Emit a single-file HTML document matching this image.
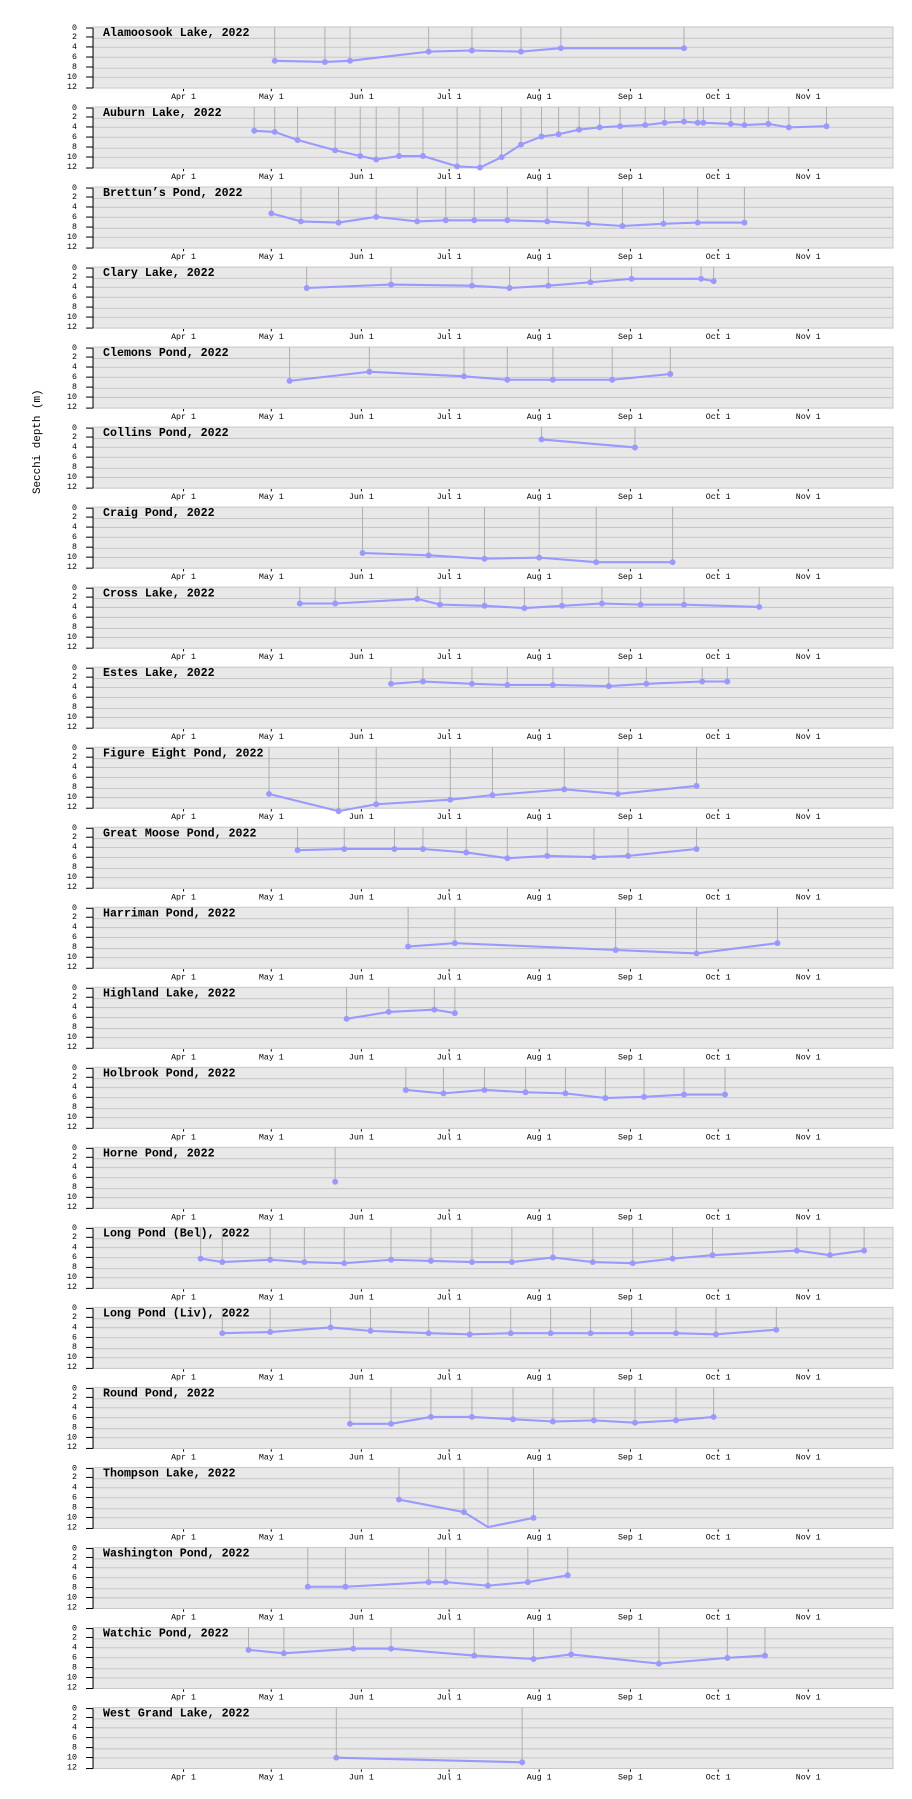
<!DOCTYPE html>
<html><head><meta charset="utf-8"><style>
html,body{margin:0;padding:0;background:#fff}
svg{display:block}
text{font-family:"Liberation Mono","DejaVu Sans Mono",monospace}
.t{font-size:7.3px;fill:#000}
.ti{font-size:10.2px;font-weight:bold;fill:#000}
.v{stroke:#b0b0b0;stroke-width:0.9}
.s{fill:none;stroke:#9999ff;stroke-width:1.8;stroke-linejoin:round}
.d{fill:#9999ff}
</style></head><body>
<svg width="912" height="1799" viewBox="0 0 800 1568" preserveAspectRatio="none" xmlns="http://www.w3.org/2000/svg" xmlns:xlink="http://www.w3.org/1999/xlink">
<defs>
<g id="bg">
<rect x="81.6" y="0" width="701.7" height="53.2" fill="#e8e8e8" stroke="#c8c8c8" stroke-width="0.9"/>
<g stroke="#c8c8c8" stroke-width="0.9">
<line x1="81.6" x2="783.3" y1="9.9" y2="9.9"/><line x1="81.6" x2="783.3" y1="17.7" y2="17.7"/><line x1="81.6" x2="783.3" y1="26.4" y2="26.4"/><line x1="81.6" x2="783.3" y1="36" y2="36"/><line x1="81.6" x2="783.3" y1="43.9" y2="43.9"/>
</g>
<g stroke="#000" stroke-width="0.9">
<line x1="81.6" x2="81.6" y1="0.9" y2="53.2"/>
<line x1="75.5" x2="81.6" y1="0.9" y2="0.9"/><line x1="75.5" x2="81.6" y1="8.7" y2="8.7"/><line x1="75.5" x2="81.6" y1="17.4" y2="17.4"/><line x1="75.5" x2="81.6" y1="26.2" y2="26.2"/><line x1="75.5" x2="81.6" y1="34.9" y2="34.9"/><line x1="75.5" x2="81.6" y1="43.6" y2="43.6"/><line x1="75.5" x2="81.6" y1="53.2" y2="53.2"/>
<line x1="161" x2="161" y1="54" y2="56"/><line x1="238" x2="238" y1="54" y2="56"/><line x1="317" x2="317" y1="54" y2="56"/><line x1="394" x2="394" y1="54" y2="56"/><line x1="473" x2="473" y1="54" y2="56"/><line x1="553" x2="553" y1="54" y2="56"/><line x1="630" x2="630" y1="54" y2="56"/><line x1="709" x2="709" y1="54" y2="56"/>
</g>
<g class="t" text-anchor="end">
<text x="67.5" y="2.5">0</text><text x="67.5" y="10.3">2</text><text x="67.5" y="19.1">4</text><text x="67.5" y="27.8">6</text><text x="67.5" y="36.5">8</text><text x="67.5" y="45.2">10</text><text x="67.5" y="53.9">12</text>
</g>
<g class="t" text-anchor="middle">
<text x="161" y="62.8">Apr 1</text><text x="238" y="62.8">May 1</text><text x="317" y="62.8">Jun 1</text><text x="394" y="62.8">Jul 1</text><text x="473" y="62.8">Aug 1</text><text x="553" y="62.8">Sep 1</text><text x="630" y="62.8">Oct 1</text><text x="709" y="62.8">Nov 1</text>
</g>
</g>
</defs>
<text x="32.5" y="385" transform="rotate(-90 32.5 385)" text-anchor="middle" dominant-baseline="middle" style="font-size:9.5px">Secchi depth (m)</text>

<use xlink:href="#bg" y="23.5"/><use xlink:href="#bg" y="93.25"/><use xlink:href="#bg" y="163"/><use xlink:href="#bg" y="232.75"/><use xlink:href="#bg" y="302.5"/><use xlink:href="#bg" y="372.25"/><use xlink:href="#bg" y="442"/><use xlink:href="#bg" y="511.75"/><use xlink:href="#bg" y="581.5"/><use xlink:href="#bg" y="651.25"/><use xlink:href="#bg" y="721"/><use xlink:href="#bg" y="790.75"/><use xlink:href="#bg" y="860.5"/><use xlink:href="#bg" y="930.25"/><use xlink:href="#bg" y="1000"/><use xlink:href="#bg" y="1069.75"/><use xlink:href="#bg" y="1139.5"/><use xlink:href="#bg" y="1209.25"/><use xlink:href="#bg" y="1279"/><use xlink:href="#bg" y="1348.75"/><use xlink:href="#bg" y="1418.5"/><use xlink:href="#bg" y="1488.25"/>

<g class="ti">
<text x="90.4" y="31.4">Alamoosook Lake, 2022</text>
<text x="90.4" y="101.2">Auburn Lake, 2022</text>
<text x="90.4" y="170.9">Brettun’s Pond, 2022</text>
<text x="90.4" y="240.7">Clary Lake, 2022</text>
<text x="90.4" y="310.4">Clemons Pond, 2022</text>
<text x="90.4" y="380.2">Collins Pond, 2022</text>
<text x="90.4" y="449.9">Craig Pond, 2022</text>
<text x="90.4" y="519.7">Cross Lake, 2022</text>
<text x="90.4" y="589.4">Estes Lake, 2022</text>
<text x="90.4" y="659.2">Figure Eight Pond, 2022</text>
<text x="90.4" y="728.9">Great Moose Pond, 2022</text>
<text x="90.4" y="798.7">Harriman Pond, 2022</text>
<text x="90.4" y="868.4">Highland Lake, 2022</text>
<text x="90.4" y="938.2">Holbrook Pond, 2022</text>
<text x="90.4" y="1007.9">Horne Pond, 2022</text>
<text x="90.4" y="1077.7">Long Pond (Bel), 2022</text>
<text x="90.4" y="1147.4">Long Pond (Liv), 2022</text>
<text x="90.4" y="1217.2">Round Pond, 2022</text>
<text x="90.4" y="1286.9">Thompson Lake, 2022</text>
<text x="90.4" y="1356.7">Washington Pond, 2022</text>
<text x="90.4" y="1426.4">Watchic Pond, 2022</text>
<text x="90.4" y="1496.2">West Grand Lake, 2022</text>
</g>

<path class="v" d="M241 23.5V53M285 23.5V54M307 23.5V53M376 23.5V45M414 23.5V44M457 23.5V45M492 23.5V42M600 23.5V42
M223 93.25V114M241 93.25V115M261 93.25V122M294 93.25V131M316 93.25V136M330 93.25V139M350 93.25V136M371 93.25V136M401 93.25V145M421 93.25V146M440 93.25V137M457 93.25V126M475 93.25V119M490 93.25V117M508 93.25V113M526 93.25V111M544 93.25V110M566 93.25V109M583 93.25V107M600 93.25V106M612 93.25V107M617 93.25V107M641 93.25V108M653 93.25V109M674 93.25V108M692 93.25V111M725 93.25V110
M238 163V186M264 163V193M297 163V194M330 163V189M366 163V193M391 163V192M416 163V192M445 163V192M480 163V193M516 163V195M546 163V197M582 163V195M612 163V194M653 163V194
M269 232.75V251M343 232.75V248M414 232.75V249M447 232.75V251M481 232.75V249M518 232.75V246M554 232.75V243M615 232.75V243M626 232.75V245
M254 302.5V332M324 302.5V324M407 302.5V328M445 302.5V331M485 302.5V331M537 302.5V331M588 302.5V326
M475 372.25V383M557 372.25V390
M318 442V482M376 442V484M425 442V487M473 442V486M523 442V490M590 442V490
M263 511.75V526M294 511.75V526M366 511.75V522M386 511.75V527M425 511.75V528M460 511.75V530M493 511.75V528M528 511.75V526M562 511.75V527M600 511.75V527M666 511.75V529
M343 581.5V596M371 581.5V594M414 581.5V596M445 581.5V597M485 581.5V597M534 581.5V598M567 581.5V596M616 581.5V594M638 581.5V594
M236 651.25V692M297 651.25V707M330 651.25V701M395 651.25V697M432 651.25V693M495 651.25V688M542 651.25V692M611 651.25V685
M261 721V741M302 721V740M346 721V740M371 721V740M409 721V743M445 721V748M480 721V746M521 721V747M551 721V746M611 721V740
M358 790.75V825M399 790.75V822M540 790.75V828M611 790.75V831M682 790.75V822
M304 860.5V888M341 860.5V882M381 860.5V880M399 860.5V883
M356 930.25V950M389 930.25V953M425 930.25V950M461 930.25V952M496 930.25V953M531 930.25V957M565 930.25V956M600 930.25V954M636 930.25V954
M294 1000V1030
M176 1069.75V1097M195 1069.75V1100M237 1069.75V1098M267 1069.75V1100M302 1069.75V1101M343 1069.75V1098M378 1069.75V1099M414 1069.75V1100M449 1069.75V1100M485 1069.75V1096M520 1069.75V1100M555 1069.75V1101M590 1069.75V1097M625 1069.75V1094M699 1069.75V1090M728 1069.75V1094M758 1069.75V1090
M195 1139.5V1162M237 1139.5V1161M290 1139.5V1157M325 1139.5V1160M376 1139.5V1162M412 1139.5V1163M448 1139.5V1162M483 1139.5V1162M518 1139.5V1162M554 1139.5V1162M593 1139.5V1162M628 1139.5V1163M681 1139.5V1159
M307 1209.25V1241M343 1209.25V1241M378 1209.25V1235M414 1209.25V1235M450 1209.25V1237M485 1209.25V1239M521 1209.25V1238M557 1209.25V1240M593 1209.25V1238M626 1209.25V1235
M350 1279V1307M407 1279V1318M428 1279V1331M468 1279V1323
M270 1348.75V1383M303 1348.75V1383M376 1348.75V1379M391 1348.75V1379M428 1348.75V1382M463 1348.75V1379M498 1348.75V1373
M218 1418.5V1438M249 1418.5V1441M310 1418.5V1437M343 1418.5V1437M416 1418.5V1443M468 1418.5V1446M501 1418.5V1442M578 1418.5V1450M638 1418.5V1445M671 1418.5V1443
M295 1488.25V1532M458 1488.25V1536"/>

<g class="s">
<polyline points="241,53 285,54 307,53 376,45 414,44 457,45 492,42 600,42"/>
<polyline points="223,114 241,115 261,122 294,131 316,136 330,139 350,136 371,136 401,145 421,146 440,137 457,126 475,119 490,117 508,113 526,111 544,110 566,109 583,107 600,106 612,107 617,107 641,108 653,109 674,108 692,111 725,110"/>
<polyline points="238,186 264,193 297,194 330,189 366,193 391,192 416,192 445,192 480,193 516,195 546,197 582,195 612,194 653,194"/>
<polyline points="269,251 343,248 414,249 447,251 481,249 518,246 554,243 615,243 626,245"/>
<polyline points="254,332 324,324 407,328 445,331 485,331 537,331 588,326"/>
<polyline points="475,383 557,390"/>
<polyline points="318,482 376,484 425,487 473,486 523,490 590,490"/>
<polyline points="263,526 294,526 366,522 386,527 425,528 460,530 493,528 528,526 562,527 600,527 666,529"/>
<polyline points="343,596 371,594 414,596 445,597 485,597 534,598 567,596 616,594 638,594"/>
<polyline points="236,692 297,707 330,701 395,697 432,693 495,688 542,692 611,685"/>
<polyline points="261,741 302,740 346,740 371,740 409,743 445,748 480,746 521,747 551,746 611,740"/>
<polyline points="358,825 399,822 540,828 611,831 682,822"/>
<polyline points="304,888 341,882 381,880 399,883"/>
<polyline points="356,950 389,953 425,950 461,952 496,953 531,957 565,956 600,954 636,954"/>
<polyline points="176,1097 195,1100 237,1098 267,1100 302,1101 343,1098 378,1099 414,1100 449,1100 485,1096 520,1100 555,1101 590,1097 625,1094 699,1090 728,1094 758,1090"/>
<polyline points="195,1162 237,1161 290,1157 325,1160 376,1162 412,1163 448,1162 483,1162 518,1162 554,1162 593,1162 628,1163 681,1159"/>
<polyline points="307,1241 343,1241 378,1235 414,1235 450,1237 485,1239 521,1238 557,1240 593,1238 626,1235"/>
<polyline points="350,1307 407,1318 428,1331 468,1323"/>
<polyline points="270,1383 303,1383 376,1379 391,1379 428,1382 463,1379 498,1373"/>
<polyline points="218,1438 249,1441 310,1437 343,1437 416,1443 468,1446 501,1442 578,1450 638,1445 671,1443"/>
<polyline points="295,1532 458,1536"/>
</g>
<g class="d">
<circle cx="241" cy="53" r="2.6"/><circle cx="285" cy="54" r="2.6"/><circle cx="307" cy="53" r="2.6"/><circle cx="376" cy="45" r="2.6"/><circle cx="414" cy="44" r="2.6"/><circle cx="457" cy="45" r="2.6"/><circle cx="492" cy="42" r="2.6"/><circle cx="600" cy="42" r="2.6"/>
<circle cx="223" cy="114" r="2.6"/><circle cx="241" cy="115" r="2.6"/><circle cx="261" cy="122" r="2.6"/><circle cx="294" cy="131" r="2.6"/><circle cx="316" cy="136" r="2.6"/><circle cx="330" cy="139" r="2.6"/><circle cx="350" cy="136" r="2.6"/><circle cx="371" cy="136" r="2.6"/><circle cx="401" cy="145" r="2.6"/><circle cx="421" cy="146" r="2.6"/><circle cx="440" cy="137" r="2.6"/><circle cx="457" cy="126" r="2.6"/><circle cx="475" cy="119" r="2.6"/><circle cx="490" cy="117" r="2.6"/><circle cx="508" cy="113" r="2.6"/><circle cx="526" cy="111" r="2.6"/><circle cx="544" cy="110" r="2.6"/><circle cx="566" cy="109" r="2.6"/><circle cx="583" cy="107" r="2.6"/><circle cx="600" cy="106" r="2.6"/><circle cx="612" cy="107" r="2.6"/><circle cx="617" cy="107" r="2.6"/><circle cx="641" cy="108" r="2.6"/><circle cx="653" cy="109" r="2.6"/><circle cx="674" cy="108" r="2.6"/><circle cx="692" cy="111" r="2.6"/><circle cx="725" cy="110" r="2.6"/>
<circle cx="238" cy="186" r="2.6"/><circle cx="264" cy="193" r="2.6"/><circle cx="297" cy="194" r="2.6"/><circle cx="330" cy="189" r="2.6"/><circle cx="366" cy="193" r="2.6"/><circle cx="391" cy="192" r="2.6"/><circle cx="416" cy="192" r="2.6"/><circle cx="445" cy="192" r="2.6"/><circle cx="480" cy="193" r="2.6"/><circle cx="516" cy="195" r="2.6"/><circle cx="546" cy="197" r="2.6"/><circle cx="582" cy="195" r="2.6"/><circle cx="612" cy="194" r="2.6"/><circle cx="653" cy="194" r="2.6"/>
<circle cx="269" cy="251" r="2.6"/><circle cx="343" cy="248" r="2.6"/><circle cx="414" cy="249" r="2.6"/><circle cx="447" cy="251" r="2.6"/><circle cx="481" cy="249" r="2.6"/><circle cx="518" cy="246" r="2.6"/><circle cx="554" cy="243" r="2.6"/><circle cx="615" cy="243" r="2.6"/><circle cx="626" cy="245" r="2.6"/>
<circle cx="254" cy="332" r="2.6"/><circle cx="324" cy="324" r="2.6"/><circle cx="407" cy="328" r="2.6"/><circle cx="445" cy="331" r="2.6"/><circle cx="485" cy="331" r="2.6"/><circle cx="537" cy="331" r="2.6"/><circle cx="588" cy="326" r="2.6"/>
<circle cx="475" cy="383" r="2.6"/><circle cx="557" cy="390" r="2.6"/>
<circle cx="318" cy="482" r="2.6"/><circle cx="376" cy="484" r="2.6"/><circle cx="425" cy="487" r="2.6"/><circle cx="473" cy="486" r="2.6"/><circle cx="523" cy="490" r="2.6"/><circle cx="590" cy="490" r="2.6"/>
<circle cx="263" cy="526" r="2.6"/><circle cx="294" cy="526" r="2.6"/><circle cx="366" cy="522" r="2.6"/><circle cx="386" cy="527" r="2.6"/><circle cx="425" cy="528" r="2.6"/><circle cx="460" cy="530" r="2.6"/><circle cx="493" cy="528" r="2.6"/><circle cx="528" cy="526" r="2.6"/><circle cx="562" cy="527" r="2.6"/><circle cx="600" cy="527" r="2.6"/><circle cx="666" cy="529" r="2.6"/>
<circle cx="343" cy="596" r="2.6"/><circle cx="371" cy="594" r="2.6"/><circle cx="414" cy="596" r="2.6"/><circle cx="445" cy="597" r="2.6"/><circle cx="485" cy="597" r="2.6"/><circle cx="534" cy="598" r="2.6"/><circle cx="567" cy="596" r="2.6"/><circle cx="616" cy="594" r="2.6"/><circle cx="638" cy="594" r="2.6"/>
<circle cx="236" cy="692" r="2.6"/><circle cx="297" cy="707" r="2.6"/><circle cx="330" cy="701" r="2.6"/><circle cx="395" cy="697" r="2.6"/><circle cx="432" cy="693" r="2.6"/><circle cx="495" cy="688" r="2.6"/><circle cx="542" cy="692" r="2.6"/><circle cx="611" cy="685" r="2.6"/>
<circle cx="261" cy="741" r="2.6"/><circle cx="302" cy="740" r="2.6"/><circle cx="346" cy="740" r="2.6"/><circle cx="371" cy="740" r="2.6"/><circle cx="409" cy="743" r="2.6"/><circle cx="445" cy="748" r="2.6"/><circle cx="480" cy="746" r="2.6"/><circle cx="521" cy="747" r="2.6"/><circle cx="551" cy="746" r="2.6"/><circle cx="611" cy="740" r="2.6"/>
<circle cx="358" cy="825" r="2.6"/><circle cx="399" cy="822" r="2.6"/><circle cx="540" cy="828" r="2.6"/><circle cx="611" cy="831" r="2.6"/><circle cx="682" cy="822" r="2.6"/>
<circle cx="304" cy="888" r="2.6"/><circle cx="341" cy="882" r="2.6"/><circle cx="381" cy="880" r="2.6"/><circle cx="399" cy="883" r="2.6"/>
<circle cx="356" cy="950" r="2.6"/><circle cx="389" cy="953" r="2.6"/><circle cx="425" cy="950" r="2.6"/><circle cx="461" cy="952" r="2.6"/><circle cx="496" cy="953" r="2.6"/><circle cx="531" cy="957" r="2.6"/><circle cx="565" cy="956" r="2.6"/><circle cx="600" cy="954" r="2.6"/><circle cx="636" cy="954" r="2.6"/>
<circle cx="294" cy="1030" r="2.6"/>
<circle cx="176" cy="1097" r="2.6"/><circle cx="195" cy="1100" r="2.6"/><circle cx="237" cy="1098" r="2.6"/><circle cx="267" cy="1100" r="2.6"/><circle cx="302" cy="1101" r="2.6"/><circle cx="343" cy="1098" r="2.6"/><circle cx="378" cy="1099" r="2.6"/><circle cx="414" cy="1100" r="2.6"/><circle cx="449" cy="1100" r="2.6"/><circle cx="485" cy="1096" r="2.6"/><circle cx="520" cy="1100" r="2.6"/><circle cx="555" cy="1101" r="2.6"/><circle cx="590" cy="1097" r="2.6"/><circle cx="625" cy="1094" r="2.6"/><circle cx="699" cy="1090" r="2.6"/><circle cx="728" cy="1094" r="2.6"/><circle cx="758" cy="1090" r="2.6"/>
<circle cx="195" cy="1162" r="2.6"/><circle cx="237" cy="1161" r="2.6"/><circle cx="290" cy="1157" r="2.6"/><circle cx="325" cy="1160" r="2.6"/><circle cx="376" cy="1162" r="2.6"/><circle cx="412" cy="1163" r="2.6"/><circle cx="448" cy="1162" r="2.6"/><circle cx="483" cy="1162" r="2.6"/><circle cx="518" cy="1162" r="2.6"/><circle cx="554" cy="1162" r="2.6"/><circle cx="593" cy="1162" r="2.6"/><circle cx="628" cy="1163" r="2.6"/><circle cx="681" cy="1159" r="2.6"/>
<circle cx="307" cy="1241" r="2.6"/><circle cx="343" cy="1241" r="2.6"/><circle cx="378" cy="1235" r="2.6"/><circle cx="414" cy="1235" r="2.6"/><circle cx="450" cy="1237" r="2.6"/><circle cx="485" cy="1239" r="2.6"/><circle cx="521" cy="1238" r="2.6"/><circle cx="557" cy="1240" r="2.6"/><circle cx="593" cy="1238" r="2.6"/><circle cx="626" cy="1235" r="2.6"/>
<circle cx="350" cy="1307" r="2.6"/><circle cx="407" cy="1318" r="2.6"/><circle cx="468" cy="1323" r="2.6"/>
<circle cx="270" cy="1383" r="2.6"/><circle cx="303" cy="1383" r="2.6"/><circle cx="376" cy="1379" r="2.6"/><circle cx="391" cy="1379" r="2.6"/><circle cx="428" cy="1382" r="2.6"/><circle cx="463" cy="1379" r="2.6"/><circle cx="498" cy="1373" r="2.6"/>
<circle cx="218" cy="1438" r="2.6"/><circle cx="249" cy="1441" r="2.6"/><circle cx="310" cy="1437" r="2.6"/><circle cx="343" cy="1437" r="2.6"/><circle cx="416" cy="1443" r="2.6"/><circle cx="468" cy="1446" r="2.6"/><circle cx="501" cy="1442" r="2.6"/><circle cx="578" cy="1450" r="2.6"/><circle cx="638" cy="1445" r="2.6"/><circle cx="671" cy="1443" r="2.6"/>
<circle cx="295" cy="1532" r="2.6"/><circle cx="458" cy="1536" r="2.6"/>
</g>
</svg>
</body></html>
